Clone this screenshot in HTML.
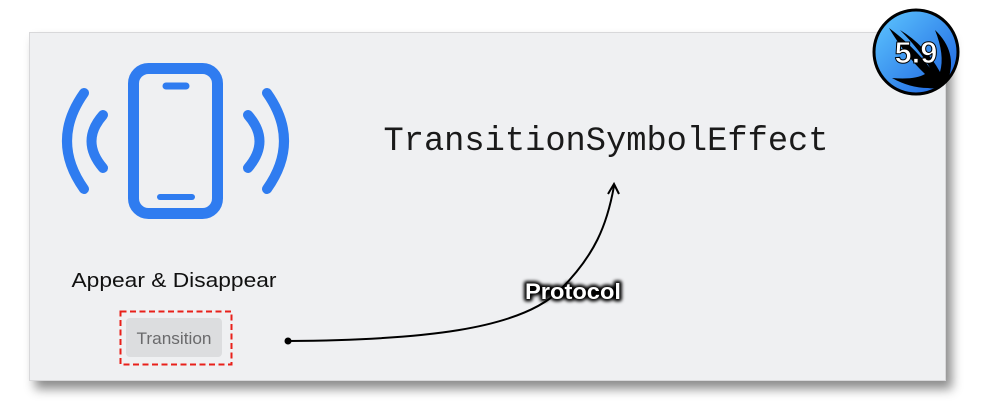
<!DOCTYPE html>
<html><head><style>
body{margin:0;width:1000px;height:417px;background:#fff;position:relative;overflow:hidden;font-family:"Liberation Sans",sans-serif}
.card{position:absolute;left:29px;top:32px;width:917px;height:349px;background:#eff0f2;border:1px solid #d8d8da;box-sizing:border-box;box-shadow:6px 8px 10px rgba(0,0,0,0.45)}
</style></head><body>
<div class="card"></div>
<svg width="1000" height="417" style="position:absolute;left:0;top:0">
  <defs>
    <linearGradient id="g" x1="0" y1="0" x2="1" y2="1"><stop offset="0" stop-color="#5fc8ff"/><stop offset="1" stop-color="#1a5fe0"/></linearGradient>
    <filter id="glow" x="-20%" y="-50%" width="140%" height="200%"><feGaussianBlur stdDeviation="1.5"/></filter>
  </defs>
  <g fill="none" stroke="#2f7cf0" stroke-linecap="round">
    <rect x="133.5" y="68.5" width="84" height="145" rx="15" stroke-width="11"/>
    <line x1="166" y1="86" x2="186" y2="86" stroke-width="7"/>
    <line x1="160" y1="197" x2="192" y2="197" stroke-width="6"/>
    <path d="M84 93 Q50 141 84 189" stroke-width="10"/>
    <path d="M103 115 Q80 141 103 168" stroke-width="10"/>
    <path d="M267 93 Q301 141 267 189" stroke-width="10"/>
    <path d="M248 115 Q271 141 248 168" stroke-width="10"/>
  </g>
  <text x="174" y="287" text-anchor="middle" font-family="Liberation Sans" font-size="20.5" fill="#111" textLength="205" lengthAdjust="spacingAndGlyphs">Appear &amp; Disappear</text>
  <rect x="120.5" y="311.5" width="111" height="53" fill="none" stroke="#e8201a" stroke-width="2" stroke-dasharray="6,3.5"/>
  <rect x="126" y="318" width="96" height="39" rx="4" fill="#dcdddf"/>
  <text x="174" y="344" text-anchor="middle" font-family="Liberation Sans" font-size="17" fill="#6a6a6c" textLength="75" lengthAdjust="spacingAndGlyphs">Transition</text>
  <text x="606" y="150" text-anchor="middle" font-family="Liberation Mono" font-size="34" fill="#1a1a1a" textLength="445" lengthAdjust="spacingAndGlyphs">TransitionSymbolEffect</text>
  <circle cx="288" cy="341" r="3.5" fill="#000"/>
  <path d="M288 341 C420 340 520 330 560 290 C595 255 607 225 614 186" fill="none" stroke="#000" stroke-width="2"/>
  <path d="M608 194 L614 184 L619 194" fill="none" stroke="#000" stroke-width="2"/>
  <g font-family="Liberation Sans" font-weight="bold" font-size="22" text-anchor="middle">
    <text x="573" y="299" fill="#000" stroke="#000" stroke-width="5" stroke-linejoin="round" filter="url(#glow)" textLength="96" lengthAdjust="spacingAndGlyphs">Protocol</text>
    <text x="573" y="299" fill="#fff" textLength="96" lengthAdjust="spacingAndGlyphs">Protocol</text>
  </g>
  <circle cx="916" cy="52" r="42" fill="url(#g)" stroke="#000" stroke-width="3"/>
  <path d="M889 28 Q912 45 930 68 Q920 50 900 30 Q925 45 940 72 Q945 55 935 30 Q958 52 948 80 Q940 90 928 88 Q910 88 892 78 Q915 80 925 74 Q905 55 889 28 Z" fill="#000"/>
  <text x="916" y="63" text-anchor="middle" font-family="Liberation Sans" font-weight="bold" font-size="31" fill="#fff" stroke="#000" stroke-width="1">5.9</text>
</svg>
</body></html>
